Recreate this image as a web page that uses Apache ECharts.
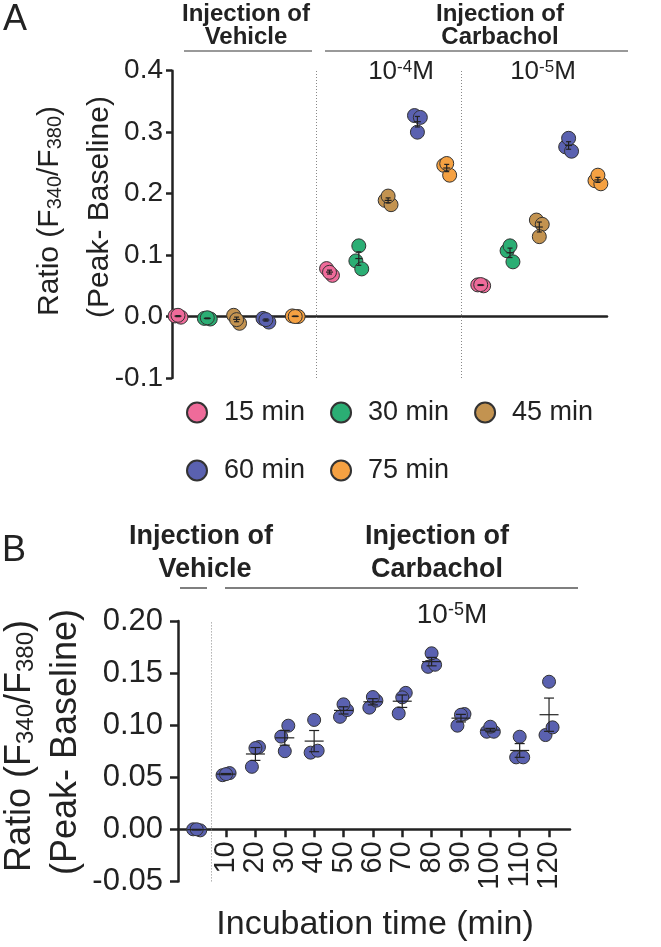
<!DOCTYPE html>
<html>
<head>
<meta charset="utf-8">
<script src="https://cdn.jsdelivr.net/npm/echarts@6/dist/echarts.min.js"></script>
<style>
  html, body { margin: 0; padding: 0; background: #fff; }
  #chart { width: 661px; height: 947px; }
</style>
</head>
<body>
<div id="chart"></div>
<script>
// ---------------- DATA ----------------
const TIMES = ['15 min', '30 min', '45 min', '60 min', '75 min'];
const GROUPS_A = ['Vehicle', '10^-4 M', '10^-5 M'];
// Panel A: [vehicle reps], [1e-4 M reps], [1e-5 M reps]
const A_15 = [[0.001, -0.001, 0.002], [0.078, 0.067, 0.072], [0.0515, 0.050, 0.052]];
const A_30 = [[-0.003, -0.004, -0.002], [0.0905, 0.0775, 0.115], [0.107, 0.089, 0.115]];
const A_45 = [[0.002, -0.011, -0.005], [0.189, 0.182, 0.196], [0.157, 0.150, 0.130]];
const A_60 = [[-0.003, -0.009, -0.005], [0.327, 0.324, 0.300], [0.276, 0.269, 0.290]];
const A_75 = [[0.001, 0.0, 0.0], [0.246, 0.230, 0.249], [0.221, 0.216, 0.230]];
const A_VALUES = [A_15, A_30, A_45, A_60, A_75];

const A_TICKS = [-0.1, 0.0, 0.1, 0.2, 0.3, 0.4];

// Panel B
const B_TIMES = [10, 20, 30, 40, 50, 60, 70, 80, 90, 100, 110, 120];
const B_VEHICLE = [0.0, -0.001, 0.0];
const B_VALUES = [
  [0.052, 0.054, 0.053],
  [0.060, 0.079, 0.078],
  [0.089, 0.0995, 0.075],
  [0.0736, 0.0755, 0.105],
  [0.108, 0.1145, 0.120],
  [0.1168, 0.1235, 0.127],
  [0.1113, 0.131, 0.1267],
  [0.156, 0.158, 0.169],
  [0.0995, 0.1107, 0.110],
  [0.0937, 0.0937, 0.0985],
  [0.0691, 0.0691, 0.0889],
  [0.0905, 0.0979, 0.1417]
];
const B_TICKS = [-0.05, 0.0, 0.05, 0.10, 0.15, 0.20];

// ---------------- STYLE / LAYOUT ----------------
const FONT = '"Liberation Sans", Arial, sans-serif';
const INK = '#222';
const COLORS = ['#EF6B9A', '#2BAE74', '#C39350', '#5A61B0', '#F5A142'];
const GROUP_OFFSET = [0, 5.17, 10.33];
const DIVIDERS_A = [4.71, 9.66];
const DIVIDER_B = 0.5;
const JITTER_A = [-0.1, 0.1, 0];
const JITTER_B = [-0.12, 0.12, 0];

function mean(a) { return a.reduce((s, v) => s + v, 0) / a.length; }
function sem(a) {
  const m = mean(a);
  const v = a.reduce((s, x) => s + (x - m) * (x - m), 0) / (a.length - 1);
  return Math.sqrt(v / a.length);
}

function errRender(halfMean, halfCap) {
  return function (params, api) {
    const x = api.value(0), m = api.value(1), s = api.value(2);
    const c = api.coord([x, m]);
    const hi = api.coord([x, m + s]);
    const lo = api.coord([x, m - s]);
    const st = { stroke: INK, lineWidth: 1.2 };
    return {
      type: 'group',
      children: [
        { type: 'line', shape: { x1: c[0] - halfMean, y1: c[1], x2: c[0] + halfMean, y2: c[1] }, style: st },
        { type: 'line', shape: { x1: c[0], y1: hi[1], x2: c[0], y2: lo[1] }, style: st },
        { type: 'line', shape: { x1: c[0] - halfCap, y1: hi[1], x2: c[0] + halfCap, y2: hi[1] }, style: st },
        { type: 'line', shape: { x1: c[0] - halfCap, y1: lo[1], x2: c[0] + halfCap, y2: lo[1] }, style: st }
      ]
    };
  };
}

const dottedStyle = { type: [1, 2], color: '#888', width: 1 };

const series = [];
// Panel A scatter
TIMES.forEach((name, t) => {
  const data = [];
  A_VALUES[t].forEach((reps, g) => {
    reps.forEach((v, r) => data.push([GROUP_OFFSET[g] + t + JITTER_A[r], v]));
  });
  series.push({
    type: 'scatter', name, xAxisIndex: 0, yAxisIndex: 0, data,
    symbol: 'circle', symbolSize: 14,
    itemStyle: { color: COLORS[t], borderColor: '#333', borderWidth: 1, opacity: 1 },
    z: 3,
    markLine: t === 0 ? {
      silent: true, symbol: 'none', label: { show: false },
      lineStyle: dottedStyle,
      data: DIVIDERS_A.map(x => ({ xAxis: x }))
    } : undefined
  });
});
// Panel A error bars
const errA = [];
TIMES.forEach((name, t) => {
  A_VALUES[t].forEach((reps, g) => errA.push([GROUP_OFFSET[g] + t, mean(reps), sem(reps)]));
});
series.push({
  type: 'custom', xAxisIndex: 0, yAxisIndex: 0, data: errA, z: 5, silent: true,
  renderItem: errRender(3.5, 2.5)
});

// Panel B scatter
const bData = [];
B_VEHICLE.forEach((v, r) => bData.push([0 + JITTER_B[r], v]));
B_VALUES.forEach((reps, i) => reps.forEach((v, r) => bData.push([i + 1 + JITTER_B[r], v])));
series.push({
  type: 'scatter', name: 'Carbachol 10^-5 M', xAxisIndex: 1, yAxisIndex: 1, data: bData,
  symbol: 'circle', symbolSize: 13,
  itemStyle: { color: COLORS[3], borderColor: '#333', borderWidth: 1, opacity: 1 },
  z: 3,
  markLine: {
    silent: true, symbol: 'none', label: { show: false },
    lineStyle: dottedStyle,
    data: [{ xAxis: DIVIDER_B }]
  }
});
const errB = [[0, mean(B_VEHICLE), sem(B_VEHICLE)]];
B_VALUES.forEach((reps, i) => errB.push([i + 1, mean(reps), sem(reps)]));
series.push({
  type: 'custom', xAxisIndex: 1, yAxisIndex: 1, data: errB, z: 5, silent: true,
  renderItem: errRender(9.5, 5)
});

const legendText = { fontSize: 27, color: INK, fontFamily: FONT, padding: [0, 0, 0, 12] };

const graphics = [
  // Panel letters
  { type: 'text', x: 15, y: 20, style: { text: 'A', fontSize: 36, fontFamily: FONT, fill: INK, align: 'center', verticalAlign: 'middle' } },
  { type: 'text', x: 14, y: 551, style: { text: 'B', fontSize: 36, fontFamily: FONT, fill: INK, align: 'center', verticalAlign: 'middle' } },
  // Panel A headers
  { type: 'text', x: 246, y: 14, style: { text: 'Injection of', fontSize: 24, fontWeight: 'bold', fontFamily: FONT, fill: INK, align: 'center', verticalAlign: 'middle' } },
  { type: 'text', x: 246, y: 37, style: { text: 'Vehicle', fontSize: 24, fontWeight: 'bold', fontFamily: FONT, fill: INK, align: 'center', verticalAlign: 'middle' } },
  { type: 'line', shape: { x1: 184, y1: 51, x2: 312, y2: 51 }, style: { stroke: '#777', lineWidth: 1.5 } },
  { type: 'text', x: 500, y: 14, style: { text: 'Injection of', fontSize: 24, fontWeight: 'bold', fontFamily: FONT, fill: INK, align: 'center', verticalAlign: 'middle' } },
  { type: 'text', x: 500, y: 37, style: { text: 'Carbachol', fontSize: 24, fontWeight: 'bold', fontFamily: FONT, fill: INK, align: 'center', verticalAlign: 'middle' } },
  { type: 'line', shape: { x1: 325, y1: 51, x2: 628, y2: 51 }, style: { stroke: '#777', lineWidth: 1.5 } },
  { type: 'text', x: 401, y: 72, style: { text: '10{sup|-4}M', fontSize: 26, fontFamily: FONT, fill: INK, align: 'center', verticalAlign: 'middle',
    rich: { sup: { fontSize: 17, fontFamily: FONT, fill: INK, verticalAlign: 'top' } } } },
  { type: 'text', x: 543, y: 72, style: { text: '10{sup|-5}M', fontSize: 26, fontFamily: FONT, fill: INK, align: 'center', verticalAlign: 'middle',
    rich: { sup: { fontSize: 17, fontFamily: FONT, fill: INK, verticalAlign: 'top' } } } },
  // Panel A y title
  { type: 'text', x: 50, y: 211, rotation: Math.PI / 2, style: { text: 'Ratio (F{sub|340}/F{sub|380})', fontSize: 30, fontFamily: FONT, fill: INK, align: 'center', verticalAlign: 'middle',
    rich: { sub: { fontSize: 20, fontFamily: FONT, fill: INK, verticalAlign: 'bottom' } } } },
  { type: 'text', x: 100, y: 207, rotation: Math.PI / 2, style: { text: '(Peak- Baseline)', fontSize: 30, fontFamily: FONT, fill: INK, align: 'center', verticalAlign: 'middle' } },
  // Panel B headers
  { type: 'text', x: 201, y: 537, style: { text: 'Injection of', fontSize: 27, fontWeight: 'bold', fontFamily: FONT, fill: INK, align: 'center', verticalAlign: 'middle' } },
  { type: 'text', x: 205, y: 570, style: { text: 'Vehicle', fontSize: 27, fontWeight: 'bold', fontFamily: FONT, fill: INK, align: 'center', verticalAlign: 'middle' } },
  { type: 'line', shape: { x1: 180, y1: 588, x2: 207, y2: 588 }, style: { stroke: '#555', lineWidth: 1.5 } },
  { type: 'text', x: 437, y: 537, style: { text: 'Injection of', fontSize: 27, fontWeight: 'bold', fontFamily: FONT, fill: INK, align: 'center', verticalAlign: 'middle' } },
  { type: 'text', x: 437, y: 570, style: { text: 'Carbachol', fontSize: 27, fontWeight: 'bold', fontFamily: FONT, fill: INK, align: 'center', verticalAlign: 'middle' } },
  { type: 'line', shape: { x1: 225, y1: 588, x2: 578, y2: 588 }, style: { stroke: '#555', lineWidth: 1.5 } },
  { type: 'text', x: 452, y: 615, style: { text: '10{sup|-5}M', fontSize: 28, fontFamily: FONT, fill: INK, align: 'center', verticalAlign: 'middle',
    rich: { sup: { fontSize: 18, fontFamily: FONT, fill: INK, verticalAlign: 'top' } } } },
  // Panel B y title
  { type: 'text', x: 20, y: 746, rotation: Math.PI / 2, style: { text: 'Ratio (F{sub|340}/F{sub|380})', fontSize: 36, fontFamily: FONT, fill: INK, align: 'center', verticalAlign: 'middle',
    rich: { sub: { fontSize: 24, fontFamily: FONT, fill: INK, verticalAlign: 'bottom' } } } },
  { type: 'text', x: 66, y: 742, rotation: Math.PI / 2, style: { text: '(Peak- Baseline)', fontSize: 36, fontFamily: FONT, fill: INK, align: 'center', verticalAlign: 'middle' } },
  // Panel B x title
  { type: 'text', x: 375, y: 925, style: { text: 'Incubation time (min)', fontSize: 34, fontFamily: FONT, fill: INK, align: 'center', verticalAlign: 'middle' } }
];

const option = {
  animation: false,
  backgroundColor: '#fff',
  textStyle: { fontFamily: FONT, color: INK },
  grid: [
    { left: 172, top: 70.7, width: 435, height: 307.3, containLabel: false },
    { left: 178, top: 621, width: 392, height: 260.4, containLabel: false }
  ],
  xAxis: [
    {
      type: 'value', gridIndex: 0, min: -0.205, max: 14.64,
      axisLine: { show: true, onZero: true, lineStyle: { color: INK, width: 2.5 } },
      axisTick: { show: false }, axisLabel: { show: false }, splitLine: { show: false }
    },
    {
      type: 'value', gridIndex: 1, min: -0.637, max: 12.714,
      axisLine: { show: true, onZero: true, lineStyle: { color: INK, width: 2.5 } },
      axisTick: { show: true, length: 8, lineStyle: { color: INK, width: 2.5 },
        customValues: B_TIMES.map((_, i) => i + 1) },
      axisLabel: { show: false },
      splitLine: { show: false }
    }
  ],
  yAxis: [
    {
      type: 'value', gridIndex: 0, min: A_TICKS[0], max: A_TICKS[A_TICKS.length - 1], interval: 0.1,
      axisLine: { show: true, onZero: false, lineStyle: { color: INK, width: 2.5 } },
      axisTick: { show: true, length: 6, lineStyle: { color: INK, width: 2.5 } },
      axisLabel: { fontSize: 28, color: INK, fontFamily: FONT, margin: 9, formatter: v => v.toFixed(1) },
      splitLine: { show: false }
    },
    {
      type: 'value', gridIndex: 1, min: B_TICKS[0], max: B_TICKS[B_TICKS.length - 1], interval: 0.05,
      axisLine: { show: true, onZero: false, lineStyle: { color: INK, width: 2.5 } },
      axisTick: { show: true, length: 8, lineStyle: { color: INK, width: 2.5 } },
      axisLabel: { fontSize: 31, color: INK, fontFamily: FONT, margin: 15, formatter: v => v.toFixed(2) },
      splitLine: { show: false }
    }
  ],
  legend: [
    { data: TIMES.slice(0, 3), left: 181, top: 394, orient: 'horizontal', icon: 'circle',
      itemWidth: 20, itemHeight: 20, itemGap: 25, selectedMode: false, textStyle: legendText },
    { data: TIMES.slice(3), left: 181, top: 452, orient: 'horizontal', icon: 'circle',
      itemWidth: 20, itemHeight: 20, itemGap: 25, selectedMode: false, textStyle: legendText }
  ],
  graphic: graphics,
  series
};

const chart = echarts.init(document.getElementById('chart'), null, { renderer: 'canvas' });
chart.setOption(option);

// Rotated tick labels for panel B x axis, positioned through the axis scale
const tickLabels = B_TIMES.map((t, i) => {
  const p = chart.convertToPixel({ xAxisIndex: 1, yAxisIndex: 1 }, [i + 1, 0]);
  return {
    type: 'text', x: p[0], y: p[1] + 12, rotation: Math.PI / 2,
    style: { text: String(t), fontSize: 29, fontFamily: FONT, fill: INK, align: 'right', verticalAlign: 'middle' }
  };
});
chart.setOption({ graphic: graphics.concat(tickLabels) });
</script>
</body>
</html>
